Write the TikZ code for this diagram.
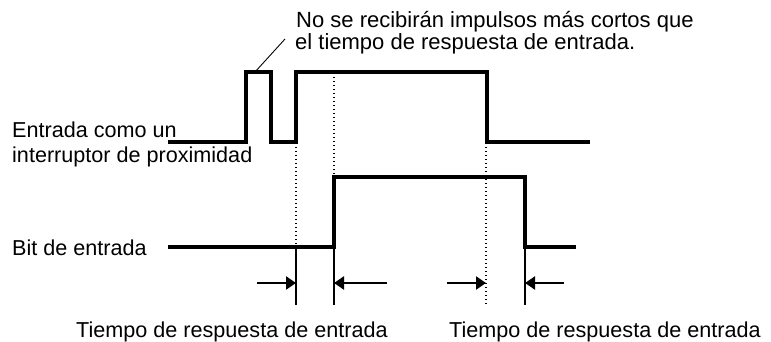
\documentclass[tikz,border=0pt]{standalone}
\usepackage{fontspec}
\setmainfont{Liberation Sans}
\usetikzlibrary{arrows.meta}
\begin{document}
\begin{tikzpicture}[x=1pt,y=-1pt,
  wave/.style={line width=3.2pt,line join=miter,line cap=butt},
  dotline/.style={line width=1.2pt,dash pattern=on 1.4pt off 2.6pt},
  tick/.style={line width=1.3pt},
  timearrow/.style={line width=2.2pt,-{Triangle[length=10pt,width=13pt]}},
  lbl/.style={anchor=base west,inner sep=0pt,font=\fontsize{21.6}{22}\selectfont},
  notelbl/.style={lbl,font=\fontsize{22}{22}\selectfont},
  leader/.style={line width=0.9pt}]
\useasboundingbox (0,0) rectangle (771,342);
% labels
\node[lbl] (in1) at (12,138) {Entrada como un};
\node[lbl] (in2) at (12,163) {interruptor de proximidad};
\node[lbl] (bit) at (12,255) {Bit de entrada};
\node[notelbl] (note1) at (296,28) {No se recibirán impulsos más cortos que};
\node[notelbl] (note2) at (295,49.5) {el tiempo de respuesta de entrada.};
\node[lbl] (t1) at (76,337) {Tiempo de respuesta de entrada};
\node[lbl] (t2) at (449,337) {Tiempo de respuesta de entrada};
% coordinates
\coordinate (pulse) at (255,72);
\coordinate (leadend) at (285,39);
\coordinate (a1s) at (257,283); \coordinate (a1e) at (296,283);
\coordinate (a2s) at (387,283); \coordinate (a2e) at (334,283);
\coordinate (a3s) at (447,283); \coordinate (a3e) at (486,283);
\coordinate (a4s) at (564,283); \coordinate (a4e) at (525,283);
% input waveform
\draw[wave] (168,142) -- (246,142) -- (246,72) -- (271,72) -- (271,142)
  -- (296,142) -- (296,72) -- (487,72) -- (487,142) -- (590,142);
% input bit waveform
\draw[wave] (168,247) -- (334,247) -- (334,177) -- (525,177) -- (525,247) -- (576,247);
% dotted guides
\draw[dotline] (296,143) -- (296,246);
\draw[dotline] (334,73) -- (334,176);
\draw[dotline] (486,143) -- (486,305);
% solid ticks
\draw[tick] (296,248) -- (296,305);
\draw[tick] (334,248) -- (334,305);
\draw[tick] (525,248) -- (525,305);
% arrows
\draw[timearrow] (a1s) -- (a1e);
\draw[timearrow] (a2s) -- (a2e);
\draw[timearrow] (a3s) -- (a3e);
\draw[timearrow] (a4s) -- (a4e);
% leader
\draw[leader] (pulse) -- (leadend);
\end{tikzpicture}
\end{document}
